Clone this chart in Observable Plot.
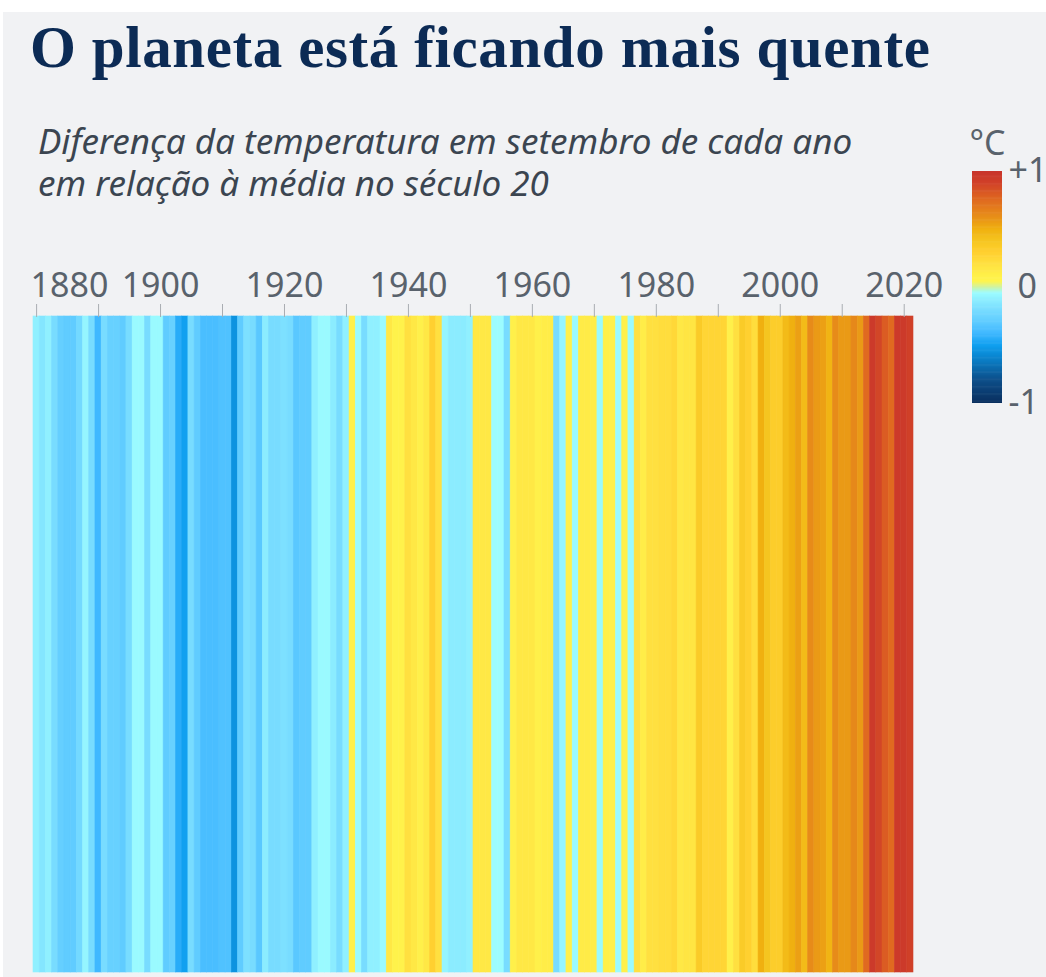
<!DOCTYPE html>
<html><head><meta charset="utf-8">
<script src="https://cdn.jsdelivr.net/npm/d3@7"></script>
<script src="https://cdn.jsdelivr.net/npm/@observablehq/plot@0.6"></script>
<style>
html,body{margin:0;padding:0;background:#fff;width:1046px;height:977px;overflow:hidden;}
#panel{position:absolute;left:3px;top:12px;width:1043px;height:965px;background:#f1f2f4;}
#title{position:absolute;left:30px;top:18px;margin:0;font-family:"Liberation Serif",serif;font-weight:bold;font-size:59px;letter-spacing:0.6px;line-height:59px;color:#0c2b55;white-space:nowrap;}
.sub{position:absolute;left:38px;margin:0;font-family:"Noto Sans",sans-serif;font-style:italic;font-size:35px;line-height:42px;height:42px;color:#3b4550;white-space:nowrap;}
#sub1{top:120px;}
#sub2{top:162px;}
#chart{position:absolute;left:0;top:230px;}
#legend{position:absolute;left:940px;top:110px;}
</style></head>
<body>
<div id="panel"></div>
<h1 id="title">O planeta está ficando mais quente</h1>
<div class="sub" id="sub1">Diferença da temperatura em setembro de cada ano</div>
<div class="sub" id="sub2">em relação à média no século 20</div>
<div id="chart"></div>
<div id="legend"></div>
<script>
// September temperature anomaly (°C vs 20th-century mean), 1880–2021
const firstYear = 1880;
const anomalies = [
  -0.10,-0.15,-0.10,-0.20,-0.28,-0.30,-0.30,-0.22,-0.08,-0.20, // 1880s
  -0.40,-0.20,-0.27,-0.27,-0.30,-0.20,-0.06,-0.06,-0.20,-0.06, // 1890s
  -0.06,-0.30,-0.27,-0.45,-0.50,-0.20,-0.30,-0.37,-0.37,-0.37, // 1900s
  -0.35,-0.35,-0.55,-0.30,-0.18,-0.20,-0.32,-0.12,-0.20,-0.20, // 1910s
  -0.18,-0.20,-0.32,-0.30,-0.30,-0.10,-0.06,-0.06,-0.12,-0.20, // 1920s
  -0.10, 0.10,-0.06,-0.20,-0.10,-0.10,-0.06, 0.15, 0.08, 0.08, // 1930s
   0.20, 0.15, 0.10, 0.15, 0.30, 0.20,-0.08,-0.12,-0.12,-0.12, // 1940s
  -0.10, 0.15, 0.15, 0.15,-0.05,-0.05,-0.20, 0.10, 0.15, 0.15, // 1950s
   0.15, 0.10, 0.12, 0.12,-0.20,-0.08, 0.10,-0.06, 0.13, 0.13, // 1960s
   0.12,-0.06, 0.10, 0.10,-0.06, 0.10,-0.06, 0.20, 0.12, 0.20, // 1970s
   0.20, 0.22, 0.22, 0.25, 0.15, 0.17, 0.17, 0.35, 0.27, 0.27, // 1980s
   0.27, 0.27, 0.10, 0.20, 0.35, 0.30, 0.22, 0.50, 0.40, 0.33, // 1990s
   0.33, 0.45, 0.50, 0.55, 0.45, 0.62, 0.57, 0.55, 0.48, 0.62, // 2000s
   0.57, 0.57, 0.63, 0.57, 0.75, 0.95, 0.88, 0.80, 0.75, 0.95, // 2010s
   0.95, 0.90                                                   // 2020s
];
const tickYears = [1880,1890,1900,1910,1920,1930,1940,1950,1960,1970,1980,1990,2000,2010,2020];
const labelYears = [1900,1920,1940,1960,1980,2000,2020];
const firstLabelYear = [1880];

// colour scale stops
const stopValues = [-1, -0.8, -0.6, -0.5, -0.4, -0.3, -0.2, -0.1, -0.05, 0, 0.05, 0.1, 0.2, 0.3, 0.4, 0.5, 0.6, 0.75, 0.9, 1];
const stopColors = ["#0a2f5e","#0d4f8a","#0a86d0","#10a0f0","#40b8ff","#60ccff","#78dcff","#90f0ff","#9cfcff","#cff3a2","#fff44c","#fff04a","#ffe040","#ffd030","#f5c520","#f0b010","#e89018","#e06a20","#d04028","#c8342c"];
const legendTicks = [1, -1];
const legendTickLabels = ["+1", "-1"];
const legendZero = [0];
const legendUnit = ["°C"];

const data = anomalies.map((v, i) => ({year: firstYear + i, value: v}));
const years = data.map(d => d.year);
const colorScale = {type: "linear", domain: stopValues, range: stopColors, clamp: true};
const textStyle = {fontFamily: "Noto Sans, sans-serif", fontSize: "34px", color: "#59626c", background: "transparent", overflow: "visible"};

const chart = Plot.plot({
  width: 1046, height: 742,
  marginTop: 86, marginLeft: 33, marginRight: 133, marginBottom: 0,
  style: textStyle,
  x: {type: "band", domain: years, padding: 0, round: false, label: null},
  color: colorScale,
  marks: [
    Plot.cell(data, {x: "year", fill: "value", stroke: "value", strokeWidth: 0.6, inset: 0}),
    Plot.axisX(tickYears, {anchor: "top", tickSize: 13, tickFormat: () => "", stroke: "#a9adb2", label: null}),
    Plot.text(labelYears, {x: d => d, text: d => String(d), frameAnchor: "top", lineAnchor: "bottom", dy: -20, fill: "#59626c"}),
    Plot.text(firstLabelYear, {x: d => d, text: d => String(d), frameAnchor: "top", lineAnchor: "bottom", dy: -20, dx: -6, textAnchor: "start", fill: "#59626c"})
  ]
});
document.getElementById("chart").append(chart);

const rampStep = 0.01;
const ramp = d3.range(-1, 1, rampStep);
const legend = Plot.plot({
  width: 106, height: 310,
  marginTop: 61, marginBottom: 17, marginLeft: 32, marginRight: 44,
  style: textStyle,
  y: {domain: [-1, 1], axis: null},
  color: colorScale,
  marks: [
    Plot.rect(ramp, {y1: d => d, y2: d => Math.min(1, d + rampStep * 1.5), fill: d => d + rampStep / 2}),
    Plot.text(legendTicks, {y: d => d, text: (d, i) => legendTickLabels[i], frameAnchor: "right", dx: 6, textAnchor: "start", fill: "#59626c"}),
    Plot.text(legendZero, {y: d => d, text: d => String(d), frameAnchor: "right", dx: 15, textAnchor: "start", fill: "#59626c"}),
    Plot.text(legendUnit, {frameAnchor: "top", lineAnchor: "bottom", dy: -17, fill: "#59626c"})
  ]
});
document.getElementById("legend").append(legend);
</script>
</body></html>
